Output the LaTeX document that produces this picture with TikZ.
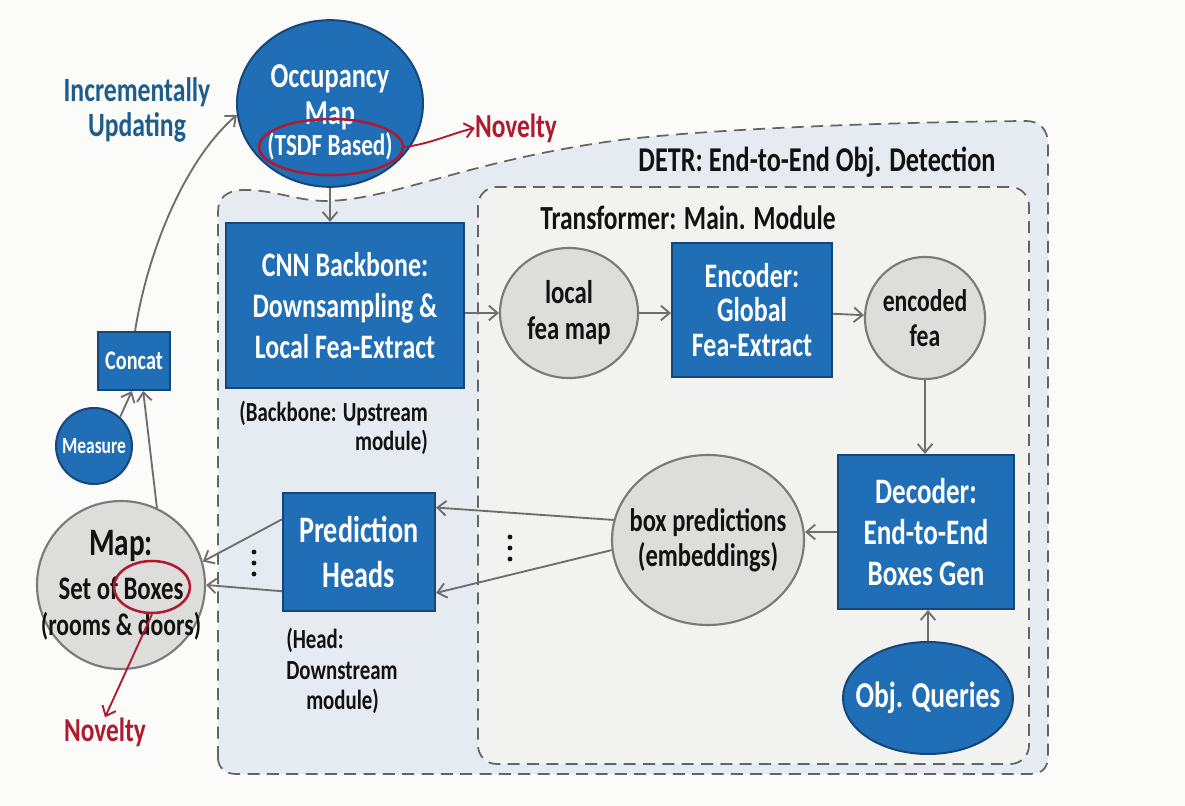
\documentclass[tikz,border=0pt]{standalone}
\usepackage{fontspec}
\setmainfont{Carlito}[FakeStretch=0.755]
\usepackage{tikz}
\usetikzlibrary{arrows.meta,shapes.geometric,calc}
\newcommand{\fsz}[2]{\fontsize{\fpeval{#1*1.12}}{#2}\selectfont\bfseries}

\begin{document}
\begin{tikzpicture}[x=0.75pt,y=0.75pt,yscale=-1,xscale=1,
  blueblock/.style={draw={rgb, 255:red, 22; green, 70; blue, 122 }, fill={rgb, 255:red, 31; green, 110; blue, 182 }, line width=1.5pt, text=white, align=center, inner sep=0pt},
  bluedisk/.style={blueblock, ellipse, inner sep=-40pt},
  graydisk/.style={ellipse, draw={rgb, 255:red, 122; green, 122; blue, 122 }, fill={rgb, 255:red, 221; green, 221; blue, 220 }, line width=1.6pt, align=center, inner sep=-40pt, text={rgb, 255:red, 18; green, 18; blue, 18 }},
  ring/.style={ellipse, draw={rgb, 255:red, 176; green, 26; blue, 46 }, line width=1.9pt, inner sep=0pt},
  flow/.style={draw={rgb, 255:red, 110; green, 110; blue, 110 }, line width=1.4pt, -{Straight Barb[length=6.5pt,width=11pt,line width=1.4pt]}},
  novelflow/.style={flow, draw={rgb, 255:red, 176; green, 26; blue, 46 }},
  region/.style={draw={rgb, 255:red, 100; green, 100; blue, 100 }, line width=1.3pt, dash pattern=on 9pt off 5.5pt},
  note/.style={text={rgb, 255:red, 18; green, 18; blue, 18 }, inner sep=0pt},
  redtext/.style={text={rgb, 255:red, 176; green, 26; blue, 46 }, font=\fsz{22.5}{26}, inner sep=0pt},
  dot/.style={fill={rgb, 255:red, 18; green, 18; blue, 18 }}
]
\useasboundingbox (0,0) rectangle (1185,806);
\fill[fill={rgb, 255:red, 251; green, 251; blue, 249 }] (0,0) rectangle (1185,806);

%Shape: DETR region
\draw[region, fill={rgb, 255:red, 229; green, 235; blue, 241 }] (218,758) -- (218,212) .. controls (218,198) and (226,191) .. (242,190) .. controls (272,189) and (296,201) .. (326,201) .. controls (392,200) and (470,160) .. (620,140) .. controls (720,128) and (900,122) .. (1026,121) .. controls (1040,121) and (1048,130) .. (1048,144) -- (1048,756) .. controls (1048,768) and (1042,774) .. (1030,774) -- (236,774) .. controls (226,774) and (218,768) .. (218,758) -- cycle ;
%Shape: Transformer region
\draw[region, fill={rgb, 255:red, 242; green, 242; blue, 240 }, rounded corners=14] (478,187) rectangle (1029,764) ;

% Text Node
\node[note, font=\fsz{23.3}{28}] (detrtitle) at (817,162) {DETR: End-to-End Obj. Detection};
% Text Node
\node[note, font=\fsz{22.6}{27}] (transtitle) at (688,218) {Transformer: Main. Module};
% Text Node
\node[note, text={rgb, 255:red, 30; green, 92; blue, 140 }, font=\fsz{22.8}{26}, align=center] (incr) at (137,110) {Incrementally\\Updating};

%Shape: Ellipse
\node[bluedisk, minimum width=139.5pt, minimum height=125pt] (occ) at (330,103.5) {};
% Text Node
\node[text=white, align=center, inner sep=0pt, font=\fsz{23.4}{29}] (occtext) at (330,112) {Occupancy\\[-1pt]Map\\[-6pt]{\fsz{20.6}{23}(TSDF Based)}};
\node[ring, minimum width=108pt, minimum height=42pt] (tsdfring) at (331,147) {};
\node[redtext] (noveltytop) at (516,128) {Novelty};

%Shape: Rectangle
\node[blueblock, minimum width=54pt, minimum height=43.5pt, font=\fsz{18}{20}] (concat) at (134,361) {Concat};
%Shape: Circle
\node[bluedisk, minimum size=57pt, font=\fsz{15.5}{18}] (measure) at (94,446) {Measure};
%Shape: Circle
\node[graydisk, minimum size=126pt, font=\fsz{22}{27}] (map) at (121,585) {{\fsz{26}{30}Map:}\\[6pt]Set of Boxes\\{\fsz{21}{26}(rooms \& doors)}};
\node[ring, minimum width=57pt, minimum height=39pt] (boxring) at (152,587) {};
\node[redtext] (noveltybot) at (105,732) {Novelty};

%Shape: Rectangle
\node[blueblock, minimum width=178.5pt, minimum height=123.75pt, font=\fsz{23}{31}] (cnn) at (345,305.5) {CNN Backbone:\\Downsampling \&\\Local Fea-Extract};
% Text Node
\node[note, anchor=east, align=right, font=\fsz{18.5}{22}] (backnote) at (428,428) {(Backbone: Upstream\\module)};
%Shape: Rectangle
\node[blueblock, minimum width=114pt, minimum height=88.5pt, font=\fsz{25}{34}] (heads) at (359,552) {Prediction\\Heads};
% Text Node
\node[note, anchor=west, align=left, font=\fsz{18.5}{23}] (headnote) at (286,671) {(Head:\\Downstream\\\hspace*{15pt}module)};

%Shape: Circle
\node[graydisk, minimum width=103.5pt, minimum height=97.5pt, font=\fsz{22}{27}] (local) at (569,313) {local\\fea map};
%Shape: Rectangle
\node[blueblock, minimum width=120pt, minimum height=100.5pt, font=\fsz{23}{26}] (enc) at (752,310) {Encoder:\\Global\\Fea-Extract};
%Shape: Circle
\node[graydisk, minimum width=90pt, minimum height=91.5pt, font=\fsz{21}{26}] (encfea) at (925,318) {encoded\\fea};
%Shape: Rectangle
\node[blueblock, minimum width=132pt, minimum height=115.5pt, font=\fsz{24}{31}] (dec) at (926,532) {Decoder:\\End-to-End\\Boxes Gen};
%Shape: Ellipse
\node[bluedisk, minimum width=127.5pt, minimum height=84pt, font=\fsz{24.4}{28}] (queries) at (928,698) {Obj. Queries};
%Shape: Ellipse
\node[graydisk, minimum width=144pt, minimum height=127.5pt, font=\fsz{21.8}{26}] (boxpred) at (708,540) {box predictions\\(embeddings)};

%Shape: Dots
\node (dotsright) at (510,548) {};
\fill[dot] (dotsright) ++(0,-11) circle (2.4) ++(0,11) circle (2.4) ++(0,11) circle (2.4) ;
\node (dotsleft) at (254,563) {};
\fill[dot] (dotsleft) ++(0,-11) circle (2.4) ++(0,11) circle (2.4) ++(0,11) circle (2.4) ;

%Straight Lines
\draw[flow] (occ.south) -- (occ.south |- cnn.north) ;
\draw[flow] (cnn.east |- local.west) -- (local.west) ;
\draw[flow] (local.east) -- (local.east -| enc.west) ;
\draw[flow] (enc) -- (encfea) ;
\draw[flow] (encfea.south) -- (encfea.south |- dec.north) ;
\draw[flow] (queries.north) -- (queries.north |- dec.south) ;
\draw[flow] (dec.west) -- (dec.west -| boxpred.east) ;
\draw[flow] (boxpred.168) -- (heads.30) ;
\draw[flow] (boxpred.186) -- (heads.-28) ;
\draw[flow] (heads.157) -- (map.16) ;
\draw[flow] (heads.207) -- (map.0) ;
\draw[flow] (map.65) -- (concat.-73) ;
\draw[flow] (measure.48) -- (concat.-94) ;
%Curve Lines
\draw[flow] (concat.88) .. controls (148,250) and (185,160) .. (occ.187) ;
\draw[novelflow] (tsdfring.east) .. controls (430,144) and (450,134) .. (noveltytop.west) ;
\draw[novelflow] (boxring.south) -- (noveltybot.north) ;

\end{tikzpicture}
\end{document}
